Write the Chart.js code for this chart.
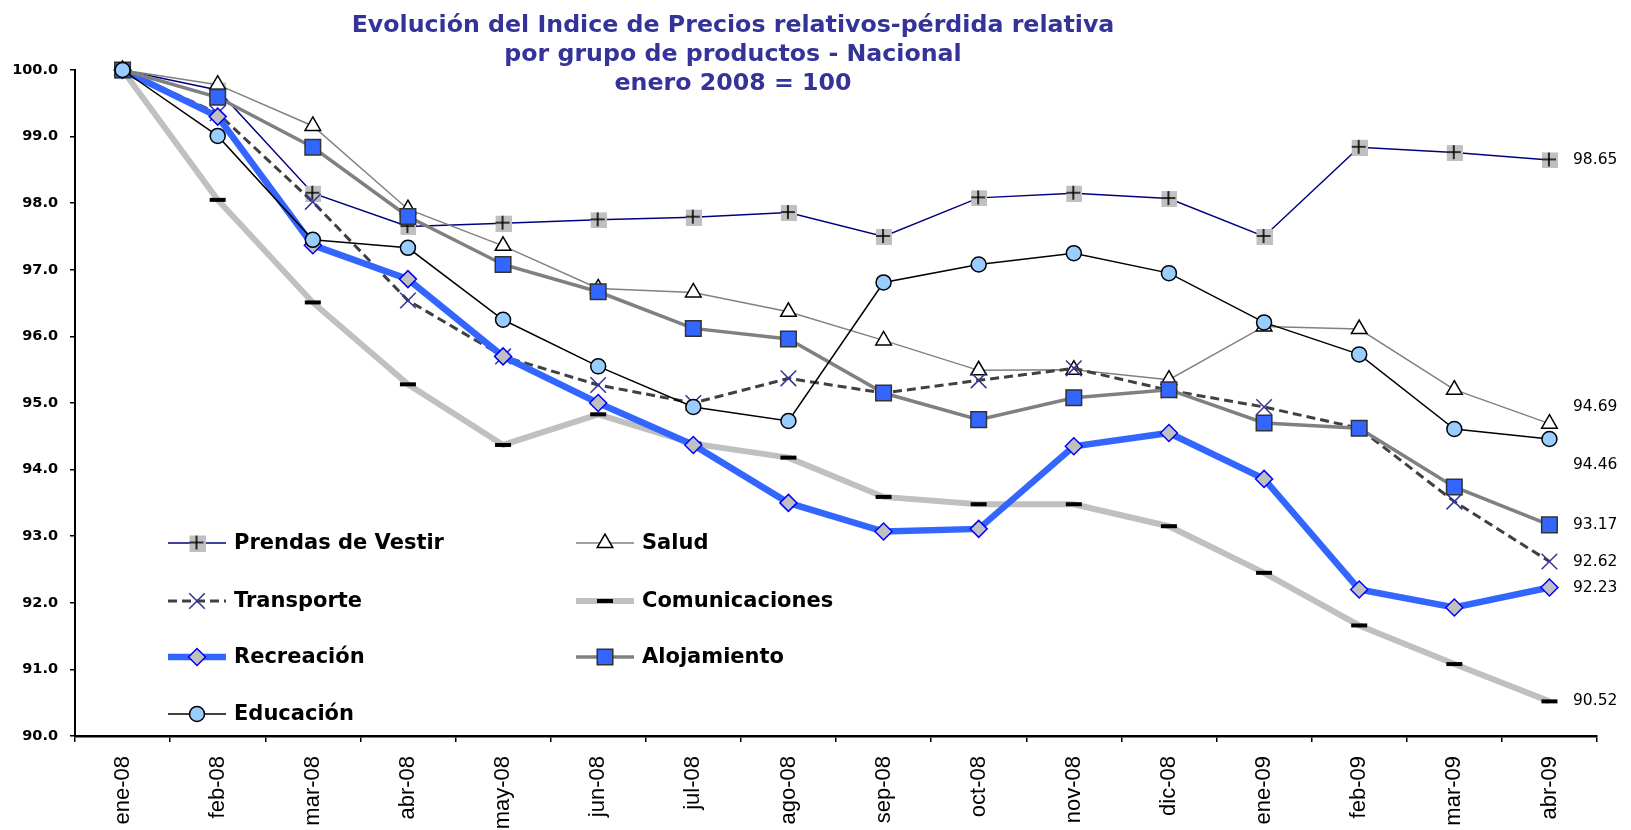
<!DOCTYPE html>
<html>
<head>
<meta charset="utf-8">
<title>Indice de Precios relativos</title>
<script src="https://cdn.jsdelivr.net/npm/chart.js@4/dist/chart.umd.min.js"></script>
<style>
  body { margin: 0; background: #fff; }
  #wrap { width: 1631px; height: 830px; position: relative; }
</style>
</head>
<body>
<div id="wrap"><canvas id="indiceChart"></canvas></div>
<script>
// Datos (enero 2008 = 100)
const meses = ['ene-08', 'feb-08', 'mar-08', 'abr-08', 'may-08', 'jun-08', 'jul-08', 'ago-08',
  'sep-08', 'oct-08', 'nov-08', 'dic-08', 'ene-09', 'feb-09', 'mar-09', 'abr-09'];

const prendas = [100, 99.70, 98.15, 97.65, 97.70, 97.75, 97.79, 97.86, 97.50, 98.08, 98.15, 98.07, 97.50, 98.84, 98.76, 98.65];
const salud = [100, 99.78, 99.16, 97.91, 97.36, 96.72, 96.66, 96.37, 95.94, 95.49, 95.50, 95.35, 96.15, 96.11, 95.20, 94.69];
const transporte = [100, 99.35, 98.02, 96.54, 95.70, 95.27, 95.00, 95.37, 95.15, 95.34, 95.52, 95.19, 94.94, 94.62, 93.52, 92.62];
const comunicaciones = [100, 98.05, 96.51, 95.28, 94.37, 94.83, 94.39, 94.18, 93.59, 93.48, 93.48, 93.15, 92.45, 91.66, 91.08, 90.52];
const recreacion = [100, 99.30, 97.37, 96.86, 95.70, 95.00, 94.37, 93.50, 93.07, 93.11, 94.35, 94.55, 93.86, 92.20, 91.93, 92.23];
const alojamiento = [100, 99.59, 98.84, 97.80, 97.08, 96.67, 96.12, 95.96, 95.15, 94.75, 95.08, 95.20, 94.70, 94.62, 93.74, 93.17];
const educacion = [100, 99.01, 97.45, 97.33, 96.25, 95.55, 94.94, 94.73, 96.81, 97.08, 97.25, 96.95, 96.21, 95.73, 94.61, 94.46];

const titulo = ['Evolución del Indice de Precios relativos-pérdida relativa',
  'por grupo de productos - Nacional',
  'enero 2008 = 100'];

// marcador: cuadro gris con cruz negra
function marcadorPrendas() {
  const c = document.createElement('canvas');
  c.width = 17; c.height = 17;
  const g = c.getContext('2d');
  g.fillStyle = '#c0c0c0';
  g.fillRect(1, 1, 16, 16);
  g.strokeStyle = '#000';
  g.lineWidth = 1.6;
  g.beginPath();
  g.moveTo(1, 8); g.lineTo(15, 8);
  g.moveTo(8, 1); g.lineTo(8, 15);
  g.stroke();
  return c;
}

const series = [
  { label: 'Prendas de Vestir', data: prendas, borderColor: '#000080', borderWidth: 1.5,
    pointStyle: marcadorPrendas(), pointRadius: 8, pointBackgroundColor: '#c0c0c0', pointBorderColor: '#000', pointBorderWidth: 1 },
  { label: 'Salud', data: salud, borderColor: '#808080', borderWidth: 1.5,
    pointStyle: 'triangle', pointRadius: 9, pointBackgroundColor: '#fff', pointBorderColor: '#000', pointBorderWidth: 1.5 },
  { label: 'Transporte', data: transporte, borderColor: '#404040', borderWidth: 3, borderDash: [9, 5],
    pointStyle: 'crossRot', pointRadius: 11, pointBackgroundColor: '#333399', pointBorderColor: '#333399', pointBorderWidth: 1.5 },
  { label: 'Comunicaciones', data: comunicaciones, borderColor: '#c0c0c0', borderWidth: 6,
    pointStyle: 'line', pointRadius: 8, pointBackgroundColor: '#000', pointBorderColor: '#000', pointBorderWidth: 4 },
  { label: 'Recreación', data: recreacion, borderColor: '#3366ff', borderWidth: 6.5,
    pointStyle: 'rectRot', pointRadius: 8.5, pointBackgroundColor: '#c0c0c0', pointBorderColor: '#0000ff', pointBorderWidth: 1.5 },
  { label: 'Alojamiento', data: alojamiento, borderColor: '#808080', borderWidth: 3.5,
    pointStyle: 'rect', pointRadius: 11, pointBackgroundColor: '#3366ff', pointBorderColor: '#333', pointBorderWidth: 1.5 },
  { label: 'Educación', data: educacion, borderColor: '#000', borderWidth: 1.5,
    pointStyle: 'circle', pointRadius: 7.5, pointBackgroundColor: '#99ccff', pointBorderColor: '#000', pointBorderWidth: 1.5 }
];

// desplazamiento vertical de las etiquetas finales (para que no se monten)
const ajusteEtiqueta = [0, -17, 0, 0, 0, 0, 26];

// titulo dibujado a mano, centrado como en el original
const tituloPlugin = {
  id: 'tituloPlugin',
  afterDraw(chart) {
    const ctx = chart.ctx;
    ctx.save();
    ctx.fillStyle = '#333399';
    ctx.font = 'bold 23.7px "DejaVu Sans"';
    ctx.textAlign = 'center';
    ctx.textBaseline = 'alphabetic';
    const ys = [31.5, 61, 89.5];
    titulo.forEach((t, i) => ctx.fillText(t, 733, ys[i]));
    ctx.restore();
  }
};

// etiquetas con el ultimo valor a la derecha
const etiquetasPlugin = {
  id: 'etiquetasPlugin',
  afterDatasetsDraw(chart) {
    const ctx = chart.ctx;
    ctx.save();
    ctx.fillStyle = '#000';
    ctx.font = '15.5px "DejaVu Sans"';
    ctx.textAlign = 'left';
    ctx.textBaseline = 'middle';
    chart.data.datasets.forEach((ds, i) => {
      const meta = chart.getDatasetMeta(i);
      const last = meta.data[meta.data.length - 1];
      const v = ds.data[ds.data.length - 1];
      ctx.fillText(v.toFixed(2), 1573, last.y + ajusteEtiqueta[i]);
    });
    ctx.restore();
  }
};

// leyenda dentro del area del grafico, dos columnas
const leyendaPlugin = {
  id: 'leyendaPlugin',
  afterDraw(chart) {
    const ctx = chart.ctx;
    const cols = [168, 576];
    const rows = [543, 601, 657, 714];
    const largo = 58;
    chart.data.datasets.forEach((ds, i) => {
      const x = cols[i % 2];
      const y = rows[Math.floor(i / 2)];
      ctx.save();
      ctx.strokeStyle = ds.borderColor;
      ctx.lineWidth = ds.borderWidth;
      ctx.setLineDash(ds.borderDash || []);
      ctx.beginPath();
      ctx.moveTo(x, y);
      ctx.lineTo(x + largo, y);
      ctx.stroke();
      ctx.setLineDash([]);
      ctx.fillStyle = ds.pointBackgroundColor;
      ctx.strokeStyle = ds.pointBorderColor;
      ctx.lineWidth = ds.pointBorderWidth;
      Chart.helpers.drawPoint(ctx, {
        pointStyle: ds.pointStyle,
        radius: ds.pointRadius,
        borderWidth: ds.pointBorderWidth,
        rotation: 0
      }, x + largo / 2, y);
      ctx.fillStyle = '#000';
      ctx.font = 'bold 21px "DejaVu Sans"';
      ctx.textAlign = 'left';
      ctx.textBaseline = 'middle';
      ctx.fillText(ds.label, x + 66, y + 1);
      ctx.restore();
    });
  }
};

const ctx = document.getElementById('indiceChart');
new Chart(ctx, {
  type: 'line',
  data: {
    labels: meses,
    datasets: series.map((s, i) => Object.assign({}, s, {
      fill: false,
      tension: 0,
      clip: false,
      order: series.length - i
    }))
  },
  options: {
    responsive: true,
    maintainAspectRatio: false,
    animation: false,
    layout: { padding: { top: 70, right: 34, bottom: 0, left: 0 } },
    plugins: {
      legend: { display: false },
      title: { display: false },
      tooltip: { enabled: false }
    },
    scales: {
      x: {
        offset: true,
        afterFit(scale) { scale.height = 94; },
        border: { color: '#000', width: 2.5 },
        grid: { drawOnChartArea: false, color: '#000', lineWidth: 1.5, tickLength: 6, offset: true },
        ticks: {
          minRotation: 90,
          maxRotation: 90,
          padding: 14,
          color: '#000',
          font: { family: 'Liberation Sans', size: 22 }
        }
      },
      y: {
        min: 90,
        max: 100,
        afterFit(scale) { scale.width = 75; },
        border: { color: '#000', width: 2 },
        grid: { drawOnChartArea: false, color: '#000', lineWidth: 1.5, tickLength: 5 },
        ticks: {
          stepSize: 1,
          padding: 12,
          color: '#000',
          font: { family: 'DejaVu Sans', size: 14.5, weight: 'bold' },
          callback: v => Number(v).toFixed(1)
        }
      }
    }
  },
  plugins: [tituloPlugin, etiquetasPlugin, leyendaPlugin]
});
</script>
</body>
</html>
